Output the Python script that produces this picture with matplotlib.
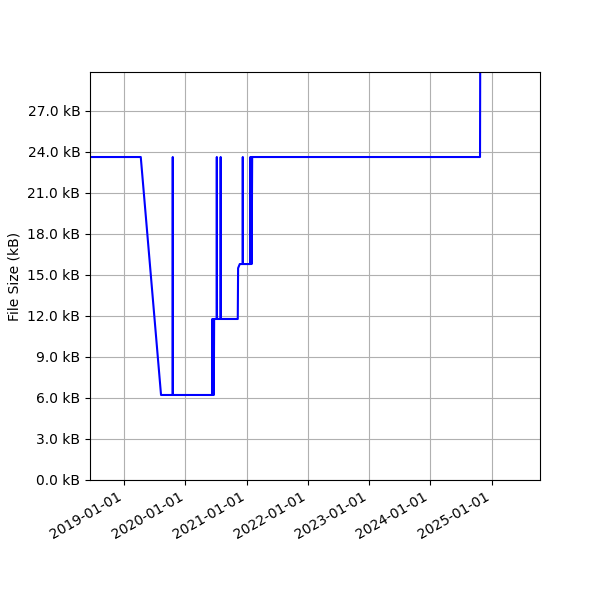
import numpy as np
import pandas as pd
from matplotlib import pyplot as plt
import matplotlib.dates as mdates
from matplotlib.ticker import MultipleLocator, FuncFormatter

# file size history (date, size in kB)
dates = ["2018-06-10", "2019-04-09", "2019-08-08", "2019-10-16", "2019-10-17", "2019-10-18",
         "2020-06-08", "2020-06-09", "2020-06-12", "2020-06-15", "2020-06-18", "2020-06-20",
         "2020-07-05", "2020-07-06", "2020-07-07", "2020-07-28", "2020-07-29", "2020-07-30",
         "2020-11-08", "2020-11-10", "2020-11-20", "2020-12-07", "2020-12-08", "2020-12-09",
         "2021-01-21", "2021-01-22", "2021-01-24", "2021-01-28", "2021-01-30", "2021-02-02",
         "2024-10-24", "2024-10-25"]
sizes_kb = [23.63, 23.63, 6.22, 6.22, 23.63, 6.22,
            6.22, 11.78, 6.22, 11.78, 6.22, 11.78,
            11.78, 23.63, 11.78, 11.78, 23.63, 11.78,
            11.78, 15.5, 15.8, 15.8, 23.63, 15.8,
            15.8, 23.63, 15.8, 23.63, 15.8, 23.63,
            23.63, 29.85]

x_start = "2018-06-10"
x_end = "2025-10-17"

dates = pd.to_datetime(dates)

fig, ax = plt.subplots(figsize=(6, 6), dpi=100)
ax.plot(dates, sizes_kb, color="blue", linewidth=1.5)
ax.set_xlim(pd.Timestamp(x_start), pd.Timestamp(x_end))
ax.set_ylim(0, max(sizes_kb))
ax.yaxis.set_major_locator(MultipleLocator(3))
ax.yaxis.set_major_formatter(FuncFormatter(lambda v, p: "%.1f kB" % v))
ax.xaxis.set_major_locator(mdates.YearLocator())
ax.xaxis.set_major_formatter(mdates.DateFormatter("%Y-%m-%d"))
ax.set_ylabel("File Size (kB)")
ax.grid(True)
fig.autofmt_xdate()
plt.subplots_adjust(left=0.15, right=0.9, top=0.88, bottom=0.2)
plt.savefig("out.png")
